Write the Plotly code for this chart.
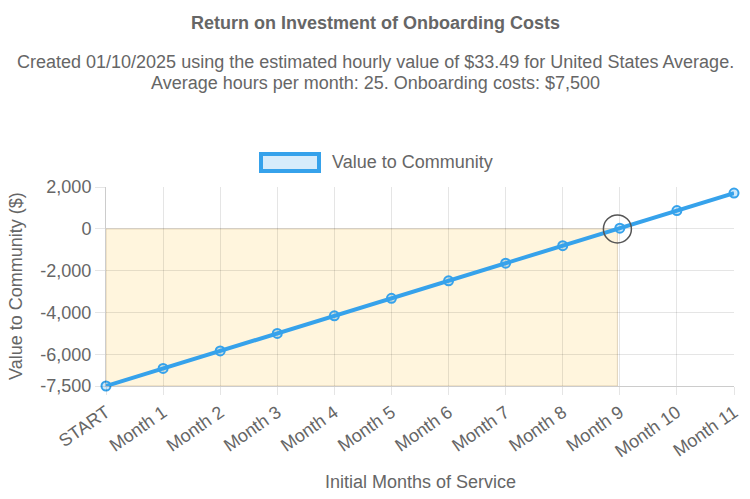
import plotly.graph_objects as go

categories = ["START", "Month 1", "Month 2", "Month 3", "Month 4", "Month 5", "Month 6",
              "Month 7", "Month 8", "Month 9", "Month 10", "Month 11"]
values = [-7500, -6662.75, -5825.5, -4988.25, -4151, -3313.75, -2476.5,
          -1639.25, -802, 35.25, 872.5, 1709.75]
y_tickvals = [2000, 0, -2000, -4000, -6000, -7500]
y_ticktext = ["2,000", "0", "-2,000", "-4,000", "-6,000", "-7,500"]
series_name = "Value to Community"

# breakeven point (interpolated where series crosses zero)
xs = list(range(len(categories)))
be = None
for i in range(1, len(values)):
    if values[i - 1] < 0 <= values[i]:
        be = xs[i - 1] + (0 - values[i - 1]) / (values[i] - values[i - 1])
        break

FONT = "Liberation Sans, Arial, sans-serif"
GRAY = "#666666"
BLUE = "#36A2EB"
FS = 18

# plot area in screen pixels (page has an 8px body margin)
PL, PR, PT, PB = 106, 734, 187, 386
PW, PH = PR - PL, PB - PT
def px(x):
    return (x - PL) / PW
def py(y):
    return (PB - y) / PH

fig = go.Figure()
fig.add_trace(go.Scatter(
    x=xs, y=values, mode="lines+markers", name=series_name,
    line=dict(color=BLUE, width=4),
    marker=dict(symbol="circle", size=9, color="rgba(54,162,235,0.25)",
                line=dict(color=BLUE, width=2)),
    cliponaxis=False, showlegend=False,
))

shapes = [
    dict(type="rect", xref="x", yref="y", x0=0, x1=be, y0=-7500, y1=0,
         fillcolor="rgba(255,206,86,0.2)", line=dict(color="rgba(170,140,90,0.35)", width=1),
         layer="below"),
    dict(type="circle", xref="x", yref="y", xsizemode="pixel", ysizemode="pixel",
         xanchor=be, yanchor=0, x0=-14, x1=14, y0=-14, y1=14,
         line=dict(color="#555555", width=1.5), fillcolor="rgba(0,0,0,0)"),
    # legend swatch
    dict(type="rect", xref="paper", yref="paper",
         x0=px(261), x1=px(319), y0=py(171), y1=py(154),
         fillcolor="rgba(54,162,235,0.2)", line=dict(color=BLUE, width=4)),
]

annotations = [
    dict(text="Return on Investment of Onboarding Costs", xref="paper", yref="paper",
         x=px(375), y=py(23), showarrow=False,
         font=dict(family=FONT, size=FS, color=GRAY, weight="bold"), xanchor="center", yanchor="middle"),
    dict(text="Created 01/10/2025 using the estimated hourly value of $33.49 for United States Average.",
         xref="paper", yref="paper", x=px(375), y=py(62), showarrow=False,
         font=dict(family=FONT, size=FS, color=GRAY), xanchor="center", yanchor="middle"),
    dict(text="Average hours per month: 25. Onboarding costs: $7,500",
         xref="paper", yref="paper", x=px(375), y=py(83), showarrow=False,
         font=dict(family=FONT, size=FS, color=GRAY), xanchor="center", yanchor="middle"),
    dict(text=series_name, xref="paper", yref="paper", x=px(330), y=py(162),
         showarrow=False, font=dict(family=FONT, size=FS, color=GRAY), xanchor="left", yanchor="middle"),
    dict(text="Initial Months of Service", xref="paper", yref="paper", x=px(420), y=py(482),
         showarrow=False, font=dict(family=FONT, size=FS, color=GRAY), xanchor="center", yanchor="middle"),
    dict(text="Value to Community ($)", xref="paper", yref="paper", x=px(16), y=py(286),
         textangle=-90, showarrow=False, font=dict(family=FONT, size=FS, color=GRAY),
         xanchor="center", yanchor="middle"),
]

fig.update_layout(
    width=750, height=499,
    margin=dict(l=PL - 8, r=750 - PR + 8, t=PT - 8, b=499 - PB + 8),
    paper_bgcolor="white", plot_bgcolor="white",
    shapes=shapes, annotations=annotations, showlegend=False,
    font=dict(family=FONT, size=FS, color=GRAY),
)
fig.update_xaxes(
    range=[0, len(categories) - 1], tickvals=xs, ticktext=categories, tickangle=-35,
    showgrid=True, gridcolor="rgba(0,0,0,0.1)", zeroline=False,
    showline=True, linecolor="rgba(0,0,0,0.2)",
    ticks="outside", ticklen=8, tickcolor="rgba(0,0,0,0.1)",
    tickfont=dict(family=FONT, size=FS, color=GRAY),
)
fig.update_yaxes(
    range=[-7500, 2000], tickvals=y_tickvals, ticktext=y_ticktext,
    showgrid=True, gridcolor="rgba(0,0,0,0.1)", zeroline=False,
    showline=True, linecolor="rgba(0,0,0,0.2)",
    ticks="outside", ticklen=10, tickcolor="rgba(0,0,0,0.1)",
    tickfont=dict(family=FONT, size=FS, color=GRAY),
)

fig.write_html("out.html")
